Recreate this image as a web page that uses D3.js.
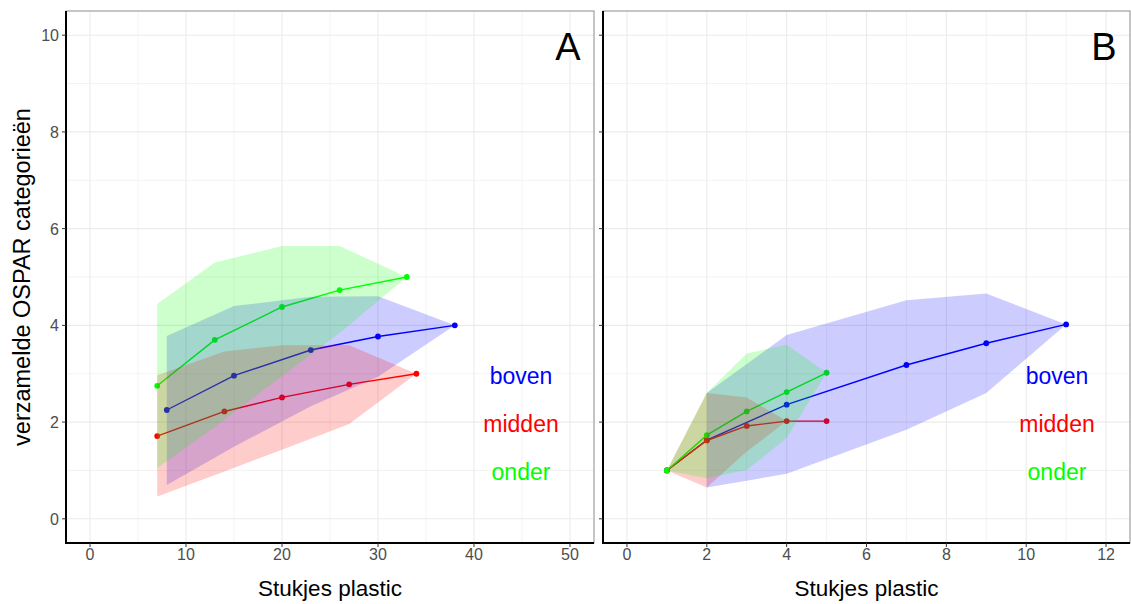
<!DOCTYPE html>
<html><head><meta charset="utf-8">
<script src="https://cdn.jsdelivr.net/npm/d3@7"></script>
<style>body{margin:0;background:#fff;font-family:"Liberation Sans",Arial,sans-serif}</style>
</head><body><svg id="c" width="1131" height="604"></svg>
<script>
const groups = ["boven","midden","onder"];
const colors = ["#0000FF","#FF0000","#00FF00"];
// Panel A
const aBovenX = [8,15,23,30,38];
const aBovenY = [2.25,2.96,3.49,3.77,4.0];
const aBovenLo = [0.70,1.49,2.33,2.94,4.0];
const aBovenHi = [3.78,4.40,4.59,4.60,4.0];
const aMiddenX = [7,14,20,27,34];
const aMiddenY = [1.71,2.22,2.51,2.78,3.0];
const aMiddenLo = [0.46,0.98,1.43,1.96,3.0];
const aMiddenHi = [2.97,3.46,3.59,3.59,3.0];
const aOnderX = [7,13,20,26,33];
const aOnderY = [2.75,3.70,4.38,4.73,5.0];
const aOnderLo = [1.05,1.90,2.95,3.84,5.0];
const aOnderHi = [4.44,5.30,5.64,5.64,5.0];
// Panel B (boven band starts at x = 2)
const bBovenX = [1,2,4,7,9,11];
const bBovenY = [1.0,1.63,2.36,3.18,3.63,4.02];
const bBovenLo = [null,0.65,0.93,1.84,2.60,4.02];
const bBovenHi = [null,2.60,3.80,4.52,4.66,4.02];
const bMiddenX = [1,2,3,4,5];
const bMiddenY = [1.0,1.62,1.92,2.02,2.02];
const bMiddenLo = [1.0,0.65,1.39,2.02,2.02];
const bMiddenHi = [1.0,2.60,2.51,2.02,2.02];
const bOnderX = [1,2,3,4,5];
const bOnderY = [1.0,1.73,2.22,2.62,3.02];
const bOnderLo = [1.0,0.84,1.01,1.67,3.02];
const bOnderHi = [1.0,2.60,3.42,3.60,3.02];
const yTicks = [0,2,4,6,8,10];
const aXTicks = [0,10,20,30,40,50];
const bXTicks = [0,2,4,6,8,10,12];

const svg = d3.select("#c");
const pTop = 11, pBottom = 543;
const y = d3.scaleLinear().domain([-0.5,10.5]).range([pBottom,pTop]);

function mk(X,Y,L,H){return X.map((x,i)=>({x:x,y:Y[i],lo:L[i],hi:H[i]}));}
const panels = [
 {left:66,right:594,dom:[-2.5,52.5],ticks:aXTicks,minor:d3.range(0,55,5),label:"A",yLabels:true,
  series:[mk(aBovenX,aBovenY,aBovenLo,aBovenHi),mk(aMiddenX,aMiddenY,aMiddenLo,aMiddenHi),mk(aOnderX,aOnderY,aOnderLo,aOnderHi)]},
 {left:603,right:1130,dom:[-0.6,12.6],ticks:bXTicks,minor:d3.range(0,13,1),label:"B",yLabels:false,
  series:[mk(bBovenX,bBovenY,bBovenLo,bBovenHi),mk(bMiddenX,bMiddenY,bMiddenLo,bMiddenHi),mk(bOnderX,bOnderY,bOnderLo,bOnderHi)]}
];

panels.forEach(p=>{
  const x = d3.scaleLinear().domain(p.dom).range([p.left,p.right]);
  const g = svg.append("g");
  const yMinor = d3.range(0,11,1);
  g.selectAll(".ym").data(yMinor).join("line").attr("x1",p.left).attr("x2",p.right)
   .attr("y1",d=>y(d)).attr("y2",d=>y(d)).attr("stroke","#ebebeb").attr("stroke-width",d=>d%2===0?1.1:0.6);
  g.selectAll(".xm").data(p.minor).join("line").attr("y1",pTop).attr("y2",pBottom)
   .attr("x1",d=>x(d)).attr("x2",d=>x(d)).attr("stroke","#ebebeb").attr("stroke-width",d=>p.ticks.includes(d)?1.1:0.6);
  const line = d3.line().x(d=>x(d.x)).y(d=>y(d.y));
  const area = d3.area().defined(d=>d.lo!=null).x(d=>x(d.x)).y0(d=>y(d.lo)).y1(d=>y(d.hi));
  p.series.forEach((s,i)=>{
    g.append("path").attr("d",line(s)).attr("fill","none").attr("stroke",colors[i]).attr("stroke-width",1.4);
    g.selectAll(null).data(s).join("circle").attr("cx",d=>x(d.x)).attr("cy",d=>y(d.y)).attr("r",2.9).attr("fill",colors[i]);
  });
  p.series.forEach((s,i)=>{
    g.append("path").attr("d",area(s)).attr("fill",colors[i]).attr("fill-opacity",0.2);
  });
  g.append("rect").attr("x",p.left).attr("y",pTop).attr("width",p.right-p.left).attr("height",pBottom-pTop)
   .attr("fill","none").attr("stroke","#8c8c8c").attr("stroke-width",1);
  g.append("line").attr("x1",p.left).attr("x2",p.left).attr("y1",pTop).attr("y2",pBottom+1).attr("stroke","#000").attr("stroke-width",2);
  g.append("line").attr("x1",p.left-1).attr("x2",p.right).attr("y1",pBottom).attr("y2",pBottom).attr("stroke","#000").attr("stroke-width",2);
  g.selectAll(".yt").data(yTicks).join("line").attr("x1",p.left-4).attr("x2",p.left).attr("y1",d=>y(d)).attr("y2",d=>y(d)).attr("stroke","#333");
  if(p.yLabels){
    g.selectAll(".yl").data(yTicks).join("text").attr("x",p.left-7).attr("y",d=>y(d)+6)
     .attr("text-anchor","end").attr("font-size",16).attr("fill","#4d4d4d").text(d=>d);
  }
  g.selectAll(".xt").data(p.ticks).join("line").attr("y1",pBottom).attr("y2",pBottom+4).attr("x1",d=>x(d)).attr("x2",d=>x(d)).attr("stroke","#333");
  g.selectAll(".xl").data(p.ticks).join("text").attr("x",d=>x(d)).attr("y",pBottom+17)
   .attr("text-anchor","middle").attr("font-size",16).attr("fill","#4d4d4d").text(d=>d);
  g.append("text").attr("x",(p.left+p.right)/2).attr("y",596).attr("text-anchor","middle").attr("font-size",22.5).attr("fill","#000").text("Stukjes plastic");
  g.append("text").attr("x",p.right-26).attr("y",60).attr("text-anchor","middle").attr("font-size",38).attr("fill","#000").text(p.label);
  groups.forEach((n,i)=>{
    g.append("text").attr("x",p.right-73).attr("y",384+i*48).attr("text-anchor","middle").attr("font-size",23).attr("fill",colors[i]).text(n);
  });
});
svg.append("text").attr("transform",`translate(30,${(pTop+pBottom)/2}) rotate(-90)`).attr("text-anchor","middle")
 .attr("font-size",23.5).attr("fill","#000").text("verzamelde OSPAR categorieën");
</script></body></html>
